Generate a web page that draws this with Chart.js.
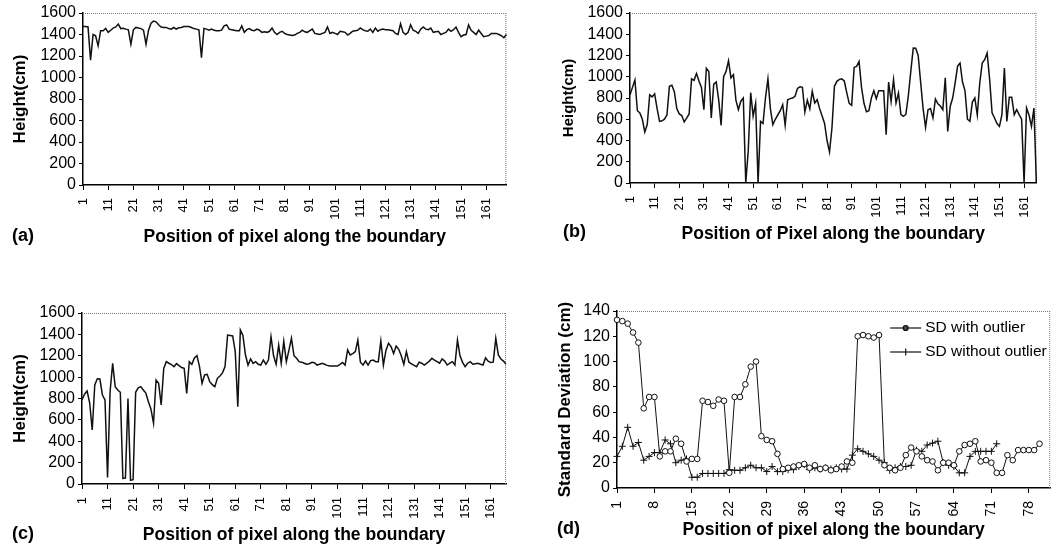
<!DOCTYPE html>
<html>
<head>
<meta charset="utf-8">
<script src="https://cdn.jsdelivr.net/npm/chart.js@4.4.1/dist/chart.umd.min.js"></script>
<style>
  body { margin: 0; width: 1060px; height: 547px; overflow: hidden; background: #fff; position: relative; font-family: "Liberation Sans", Arial, sans-serif; }
  canvas { position: absolute; }
  .tag { position: absolute; font-weight: bold; font-size: 18px; line-height: 1; color: #000; }
</style>
</head>
<body>
<canvas id="chart-a" width="530" height="268" style="left:0;top:0"></canvas>
<canvas id="chart-b" width="530" height="268" style="left:530px;top:0"></canvas>
<canvas id="chart-c" width="530" height="277" style="left:0;top:270px"></canvas>
<canvas id="chart-d" width="545" height="277" style="left:530px;top:270px"></canvas>
<div class="tag" style="left:12px;top:226px">(a)</div>
<div class="tag" style="left:563px;top:222px">(b)</div>
<div class="tag" style="left:12px;top:524px">(c)</div>
<div class="tag" style="left:557px;top:519px">(d)</div>
<script>
// heights (cm)
var heightA = [
    1474, 1474, 1470, 1160, 1400, 1388, 1294, 1435, 1435, 1457,
    1420, 1440, 1460, 1470, 1497, 1455, 1457, 1450, 1444, 1310,
    1444, 1466, 1460, 1455, 1440, 1310, 1440, 1505, 1525, 1518,
    1490, 1470, 1466, 1466, 1455, 1450, 1465, 1450, 1462, 1466,
    1475, 1475, 1475, 1465, 1455, 1450, 1444, 1185, 1457, 1450,
    1440, 1450, 1440, 1435, 1435, 1440, 1480, 1490, 1450, 1445,
    1440, 1435, 1435, 1480, 1420, 1445, 1455, 1440, 1435, 1450,
    1440, 1420, 1425, 1420, 1430, 1460, 1420, 1400, 1420, 1430,
    1410, 1400, 1395, 1390, 1395, 1410, 1420, 1440, 1425, 1420,
    1435, 1450, 1410, 1405, 1400, 1410, 1420, 1470, 1410, 1420,
    1410, 1400, 1430, 1425, 1420, 1395, 1410, 1430, 1435, 1440,
    1460, 1445, 1435, 1430, 1450, 1420, 1460, 1430, 1445, 1450,
    1445, 1445, 1440, 1435, 1410, 1400, 1500, 1420, 1400, 1420,
    1490, 1440, 1430, 1410, 1450, 1470, 1450, 1445, 1460, 1420,
    1425, 1430, 1400, 1410, 1420, 1450, 1430, 1445, 1470, 1420,
    1380, 1395, 1400, 1490, 1440, 1420, 1400, 1440, 1410, 1380,
    1385, 1390, 1410, 1410, 1410, 1400, 1390, 1370, 1400
];

var heightB = [
    830, 900, 970, 680, 660, 600, 480, 550, 830, 810,
    840, 700, 580, 585, 600, 640, 910, 920, 860, 700,
    650, 635, 575, 610, 650, 980, 966, 1030, 960, 900,
    690, 1080, 1050, 612, 930, 950, 784, 543, 1000, 1050,
    1150, 990, 1020, 780, 690, 770, 800, 0, 300, 850,
    630, 750, 0, 580, 560, 800, 980, 700, 550, 600,
    640, 680, 737, 543, 784, 794, 800, 816, 890, 905,
    900, 668, 780, 697, 863, 753, 784, 700, 630, 560,
    400, 292, 520, 910, 957, 975, 980, 960, 850, 750,
    731, 1088, 1098, 1145, 900, 750, 670, 681, 800, 869,
    794, 869, 869, 869, 455, 950, 768, 972, 753, 847,
    643, 627, 645, 820, 1050, 1270, 1268, 1200, 950, 700,
    524, 690, 700, 612, 790, 745, 725, 690, 991, 486,
    720, 800, 941, 1100, 1129, 950, 870, 600, 580, 762,
    800, 640, 941, 1129, 1161, 1223, 980, 660, 612, 560,
    533, 643, 1082, 580, 806, 806, 643, 690, 643, 600,
    0, 706, 640, 533, 706, 0
];

var heightC = [
    790, 840, 870, 760, 505, 926, 985, 982, 833, 786,
    60, 864, 1129, 911, 880, 858, 53, 55, 800, 35,
    40, 858, 900, 911, 880, 850, 770, 700, 568, 973,
    942, 739, 1082, 1145, 1130, 1118, 1098, 1126, 1107, 1090,
    1082, 848, 1145, 1120, 1180, 1201, 1098, 942, 1020, 1026,
    958, 930, 911, 989, 1010, 1040, 1098, 1394, 1390, 1385,
    1238, 723, 1441, 1390, 1207, 1113, 1170, 1129, 1145, 1120,
    1113, 1160, 1120, 1160, 1379, 1200, 1120, 1300, 1129, 1335,
    1145, 1250, 1363, 1200, 1176, 1145, 1140, 1130, 1120, 1125,
    1138, 1135, 1113, 1120, 1129, 1120, 1110, 1105, 1104, 1104,
    1104, 1120, 1138, 1113, 1254, 1207, 1220, 1238, 1347, 1140,
    1113, 1151, 1113, 1155, 1160, 1145, 1145, 1338, 1113, 1250,
    1316, 1285, 1220, 1290, 1260, 1200, 1120, 1238, 1140, 1125,
    1110, 1098, 1140, 1130, 1113, 1130, 1150, 1176, 1160, 1145,
    1130, 1170, 1150, 1113, 1130, 1145, 1113, 1347, 1200, 1138,
    1098, 1130, 1145, 1120, 1125, 1129, 1120, 1113, 1180, 1150,
    1138, 1140, 1363, 1207, 1170, 1150, 1120
];

// standard deviation (cm) along the boundary, panel (d)
var sdWithOutlier = [
    133, 132, 130, 123, 115, 63, 72, 72, 25, 29,
    29, 39, 35, 21, 23, 23, 69, 68, 65, 70,
    69, 12, 72, 72, 82, 96, 100, 41, 38, 37,
    27, 15, 16, 17, 18, 19, 16, 18, 15, 16,
    14, 15, 17, 21, 20, 120, 121, 120, 119, 121,
    18, 16, 14, 16, 26, 32, 29, 25, 22, 21,
    14, 20, 20, 18, 29, 34, 35, 37, 21, 22,
    20, 12, 12, 26, 22, 30, 30, 30, 30, 35
];

var sdWithoutOutlier = [
    25, 33, 48, 33, 36, 22, 25, 28, 28, 38,
    35, 20, 22, 23, 8.5, 8.5, 11.5, 11.5, 11.5, 11.5,
    11.5, 14.5, 14, 14, 16, 18, 16, 16, 13, 17,
    13, 13, 14.5, 14.5, 17, 18.5, 14.5, 16, 15, 16,
    15, 16, 15, 15, 26, 31, 29, 27, 25, 22,
    20, 14, 16, 17, 17, 18, 30, 29, 34, 35.5,
    37, 20, 18, 17, 12, 12, 25, 29, 29, 29,
    29, 35
];

var heightTicks = [0, 200, 400, 600, 800, 1000, 1200, 1400, 1600];
var sdTicks = [0, 20, 40, 60, 80, 100, 120, 140];

var labelsA = heightA.map((v, i) => String(i + 1));
var labelsB = heightB.map((v, i) => String(i + 1));
var labelsC = heightC.map((v, i) => String(i + 1));
var labelsD = Array.from({ length: 82 }, (v, i) => String(i + 1));

var fontFamily = "'Liberation Sans', Arial, sans-serif";

// dotted top / right edge of the plot area
var plotFrame = {
    id: 'plotFrame',
    beforeDatasetsDraw(chart) {
        var ctx = chart.ctx, a = chart.chartArea;
        ctx.save();
        ctx.strokeStyle = '#777';
        ctx.lineWidth = 1;
        ctx.setLineDash([1, 1]);
        ctx.beginPath();
        ctx.moveTo(a.left, a.top + 0.5);
        ctx.lineTo(a.right, a.top + 0.5);
        ctx.moveTo(a.right - 0.5, a.top);
        ctx.lineTo(a.right - 0.5, a.bottom);
        ctx.stroke();
        ctx.restore();
    }
};

// legend sitting inside the plot, top right
var sdLegend = {
    id: 'sdLegend',
    afterDraw(chart) {
        var ctx = chart.ctx, a = chart.chartArea;
        ctx.save();
        chart.data.datasets.forEach(function (ds, i) {
            var x = a.right - 160, y = a.top + 17 + i * 24, cx = x + 15.5;
            ctx.strokeStyle = '#111';
            ctx.lineWidth = 1.2;
            ctx.beginPath();
            ctx.moveTo(x, y);
            ctx.lineTo(x + 31, y);
            ctx.stroke();
            ctx.beginPath();
            if (ds.pointStyle === 'circle') {
                ctx.arc(cx, y, 2.5, 0, Math.PI * 2);
                ctx.fillStyle = '#444';
                ctx.fill();
                ctx.stroke();
            } else {
                ctx.moveTo(cx, y - 3.5);
                ctx.lineTo(cx, y + 3.5);
                ctx.stroke();
            }
            ctx.fillStyle = '#000';
            ctx.font = '15.5px ' + fontFamily;
            ctx.textBaseline = 'middle';
            ctx.textAlign = 'left';
            ctx.fillText(ds.label, x + 35, y);
        });
        ctx.restore();
    }
};

function lineChart(id, labels, datasets, o) {
    var ctx = document.getElementById(id).getContext('2d');
    return new Chart(ctx, {
        type: 'line',
        data: { labels: labels, datasets: datasets },
        options: {
            responsive: false,
            animation: false,
            layout: { padding: o.padding },
            elements: { line: { tension: 0 } },
            plugins: { legend: { display: false }, tooltip: { enabled: false } },
            scales: {
                x: {
                    grid: {
                        drawOnChartArea: false,
                        tickLength: 5,
                        color: c => (c.index % o.every === 0 ? '#000' : 'rgba(0,0,0,0)')
                    },
                    border: { color: '#000', width: 1.5 },
                    ticks: {
                        autoSkip: false,
                        minRotation: 90,
                        maxRotation: 90,
                        padding: 8,
                        color: '#000',
                        font: { family: fontFamily, size: o.xTickSize },
                        callback: (v, i) => (i % o.every === 0 ? labels[i] : '')
                    },
                    title: {
                        display: true,
                        text: o.xTitle,
                        color: '#000',
                        padding: 0,
                        font: { family: fontFamily, size: 17.5, weight: 'bold' }
                    },
                    afterFit: s => { s.height = o.xHeight; }
                },
                y: {
                    min: o.yTicks[0],
                    max: o.yTicks[o.yTicks.length - 1],
                    afterBuildTicks: s => { s.ticks = o.yTicks.map(v => ({ value: v })); },
                    grid: { drawOnChartArea: false, tickLength: 4, color: '#000' },
                    border: { color: '#000', width: 1.5 },
                    ticks: {
                        autoSkip: false,
                        padding: 3,
                        color: '#000',
                        font: { family: fontFamily, size: 16 },
                        callback: v => String(v)
                    },
                    title: {
                        display: true,
                        text: o.yTitle,
                        color: '#000',
                        padding: 0,
                        font: { family: fontFamily, size: o.yTitleSize, weight: 'bold' }
                    },
                    afterFit: s => { s.width = o.yWidth; }
                }
            }
        },
        plugins: [plotFrame].concat(o.extra || [])
    });
}

function heightSeries(data) {
    return [{ data: data, borderColor: '#111', borderWidth: 1.5, pointRadius: 0, fill: false }];
}

var chartA = lineChart('chart-a', labelsA, heightSeries(heightA), {
    padding: { left: 10, top: 13, right: 23, bottom: 20 },
    yWidth: 73, xHeight: 63, every: 10, xTickSize: 13, yTitleSize: 17,
    yTicks: heightTicks, yTitle: 'Height(cm)', xTitle: 'Position of pixel along the boundary'
});

var chartB = lineChart('chart-b', labelsB, heightSeries(heightB), {
    padding: { left: 30, top: 13, right: 8, bottom: 23 },
    yWidth: 70, xHeight: 62, every: 10, xTickSize: 13, yTitleSize: 15,
    yTicks: heightTicks, yTitle: 'Height(cm)', xTitle: 'Position of Pixel along the boundary'
});

var chartC = lineChart('chart-c', labelsC, heightSeries(heightC), {
    padding: { left: 10, top: 43, right: 24, bottom: 1 },
    yWidth: 72, xHeight: 62, every: 10, xTickSize: 13, yTitleSize: 17,
    yTicks: heightTicks, yTitle: 'Height(cm)', xTitle: 'Position of pixel along the boundary'
});

var chartD = lineChart('chart-d', labelsD, [
    {
        label: 'SD with outlier',
        data: sdWithOutlier,
        borderColor: '#111',
        borderWidth: 1,
        pointStyle: 'circle',
        pointRadius: 2.8,
        pointBackgroundColor: '#fff',
        pointBorderColor: '#111',
        pointBorderWidth: 1
    },
    {
        label: 'SD without outlier',
        data: sdWithoutOutlier,
        borderColor: '#111',
        borderWidth: 1,
        pointStyle: 'cross',
        pointRadius: 3.5,
        pointBorderColor: '#111',
        pointBorderWidth: 1
    }
], {
    padding: { left: 25, top: 41, right: 13, bottom: 6 },
    yWidth: 62, xHeight: 53, every: 7, xTickSize: 14, yTitleSize: 17,
    yTicks: sdTicks, yTitle: 'Standard Deviation (cm)', xTitle: 'Position of pixel along the boundary',
    extra: [sdLegend]
});
</script>
</body>
</html>
